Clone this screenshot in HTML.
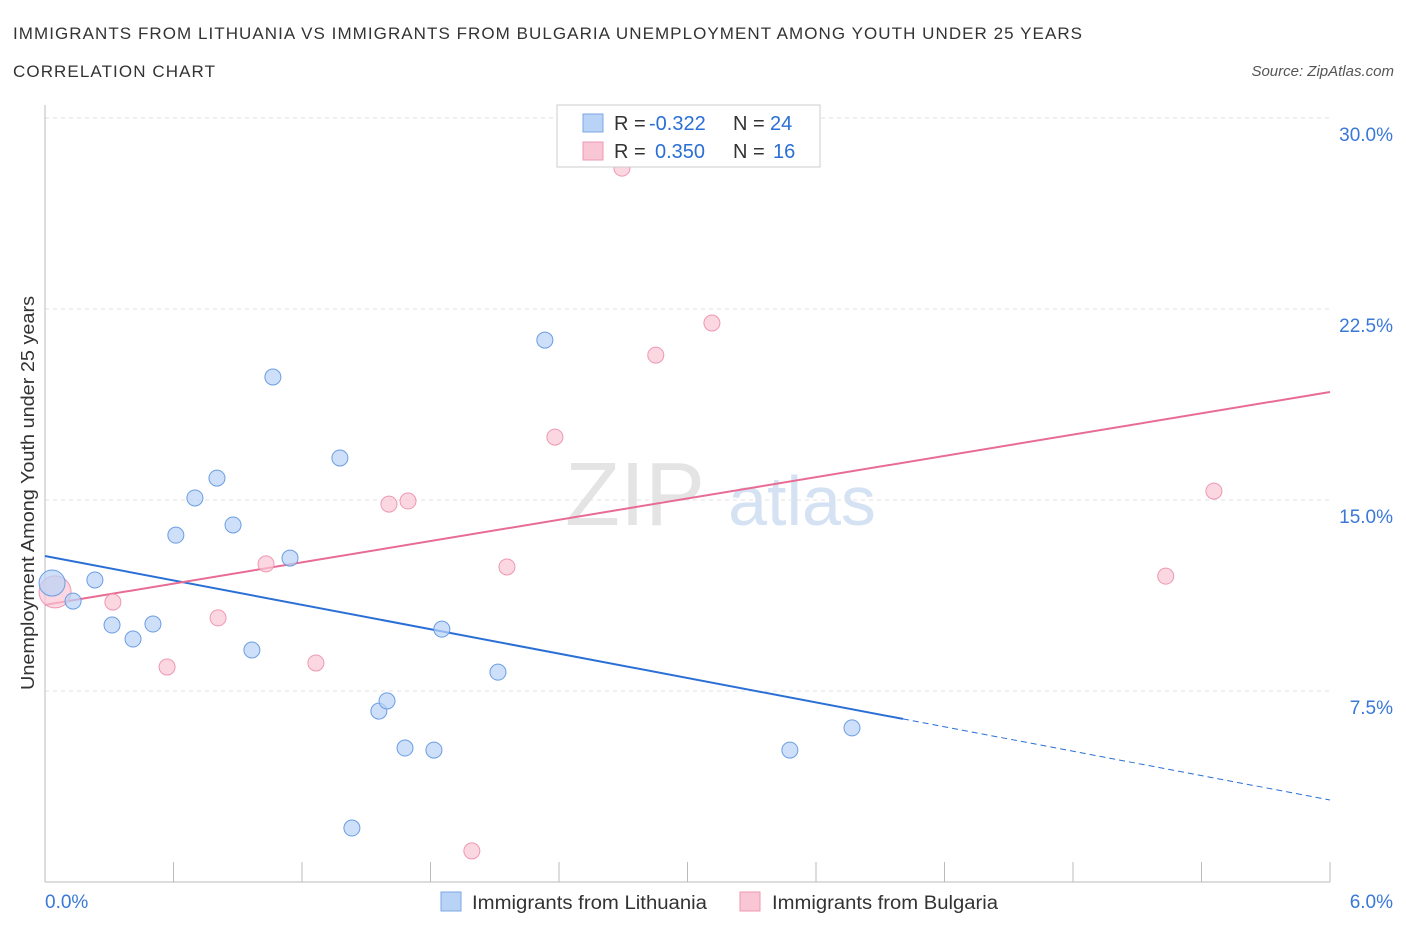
<!DOCTYPE html>
<html><head><meta charset="utf-8">
<style>
body{margin:0;background:#fff;font-family:"Liberation Sans",sans-serif;}
svg text{font-family:"Liberation Sans",sans-serif;}
</style></head>
<body>
<svg id="chart" width="1406" height="930" viewBox="0 0 1406 930" xmlns="http://www.w3.org/2000/svg">
<text x="13" y="39" font-size="17" fill="#333" textLength="1069" lengthAdjust="spacing">IMMIGRANTS FROM LITHUANIA VS IMMIGRANTS FROM BULGARIA UNEMPLOYMENT AMONG YOUTH UNDER 25 YEARS</text>
<text x="13" y="77" font-size="17" fill="#333" textLength="202" lengthAdjust="spacing">CORRELATION CHART</text>
<text x="1394" y="76" font-size="15" fill="#555" font-style="italic" text-anchor="end">Source: ZipAtlas.com</text>
<g>
<text x="635" y="525" font-size="90" fill="#e4e4e4" font-family="Liberation Serif" text-anchor="middle">ZIP</text>
<text x="802" y="525" font-size="70" fill="#d5e2f3" text-anchor="middle">atlas</text>
</g>
<g id="grid"></g>
<g id="axes"></g>
<g id="trends"></g>
<g id="points"></g>
<text transform="translate(34,493) rotate(-90)" font-size="18" fill="#333" text-anchor="middle" textLength="394" lengthAdjust="spacingAndGlyphs">Unemployment Among Youth under 25 years</text>
<g>
<rect x="557" y="105" width="263" height="62" fill="#fff" stroke="#ccc"/>
<rect x="583" y="114" width="20" height="18" fill="#b9d3f7" stroke="#7aa7e6"/>
<rect x="583" y="142" width="20" height="18" fill="#f9c6d5" stroke="#ee98b2"/>
<text x="614" y="130" font-size="20" fill="#333">R = <tspan fill="#2a6fd6" x="649">-0.322</tspan><tspan x="733">N = </tspan><tspan fill="#2a6fd6" x="770">24</tspan></text>
<text x="614" y="158" font-size="20" fill="#333">R = <tspan fill="#2a6fd6" x="655">0.350</tspan><tspan x="733">N = </tspan><tspan fill="#2a6fd6" x="773">16</tspan></text>
</g>
<g>
<rect x="441" y="892" width="20" height="19" fill="#b9d3f7" stroke="#7aa7e6"/>
<text x="472" y="909" font-size="19" fill="#333" textLength="235" lengthAdjust="spacingAndGlyphs">Immigrants from Lithuania</text>
<rect x="740" y="892" width="20" height="19" fill="#f9c6d5" stroke="#ee98b2"/>
<text x="772" y="909" font-size="19" fill="#333" textLength="226" lengthAdjust="spacingAndGlyphs">Immigrants from Bulgaria</text>
</g>
</svg>
<script>
const xTicks=[0,0.6,1.2,1.8,2.4,3.0,3.6,4.2,4.8,5.4,6.0];
const yTicks=[7.5,15,22.5,30];
const yTickLabels=["7.5%","15.0%","22.5%","30.0%"];
const xEndLabels=["0.0%","6.0%"];
const lithX=[0.033,0.131,0.233,0.313,0.411,0.504,0.611,0.700,0.803,0.878,0.966,1.064,1.144,1.377,1.433,1.559,1.597,1.681,1.816,1.853,2.115,2.334,3.478,3.768];
const lithY=[11.74,11.03,11.86,10.09,9.54,10.13,13.62,15.08,15.86,14.02,9.11,19.83,12.72,16.65,2.12,6.71,7.11,5.26,5.18,9.93,8.24,21.28,5.18,6.05];
const bulgX=[0.047,0.317,0.570,0.808,1.032,1.265,1.606,1.695,1.993,2.157,2.381,2.694,2.852,3.114,5.233,5.458];
const bulgY=[11.39,10.99,8.44,10.37,12.49,8.60,14.84,14.96,1.22,12.37,17.47,28.03,20.69,21.95,12.01,15.35];
const lithTrend=[12.80,3.22]; const lithSolidEnd=4.006;
const bulgTrend=[10.88,19.24];
const NS="http://www.w3.org/2000/svg";
const X=v=>45+v*(1285/6);
const Y=v=>882-v*(764/30);
function mk(tag,attrs,parent){const e=document.createElementNS(NS,tag);for(const k in attrs)e.setAttribute(k,attrs[k]);document.getElementById(parent).appendChild(e);return e;}
yTicks.forEach((t,i)=>{
 const g=mk('line',{x1:45,x2:1330,y1:Y(t),y2:Y(t),stroke:'#e2e2e2','stroke-dasharray':'4,4'},'grid');
 
 
 const l=mk('text',{x:1393,y:Y(t)+23,'font-size':19,fill:'#3a78d8','text-anchor':'end'},'grid');
 l.textContent=yTickLabels[i];
 
 
});
const ax=mk('line',{x1:45,x2:45,y1:105,y2:882,stroke:'#bbb'},'axes');


const bx=mk('line',{x1:45,x2:1330,y1:882,y2:882,stroke:'#bbb'},'axes');


xTicks.forEach(t=>{
 const k=mk('line',{x1:X(t),x2:X(t),y1:862,y2:882,stroke:'#bbb'},'axes');
 
 
});
[[0,'start',45],[6,'end',1393]].forEach((d,i)=>{
 const l=mk('text',{x:d[2],y:908,'font-size':19,fill:'#3a78d8','text-anchor':d[1]},'axes');
 l.textContent=xEndLabels[i];
 
 
});
const bl=(x)=>lithTrend[0]+(lithTrend[1]-lithTrend[0])*x/6;
const t1=mk('line',{x1:X(0),y1:Y(lithTrend[0]),x2:X(lithSolidEnd),y2:Y(bl(lithSolidEnd)),stroke:'#2a6fd6','stroke-width':2},'trends');


const t2=mk('line',{x1:X(lithSolidEnd),y1:Y(bl(lithSolidEnd)),x2:X(6),y2:Y(lithTrend[1]),stroke:'#2a6fd6','stroke-width':1,'stroke-dasharray':'6,4'},'trends');


const t3=mk('line',{x1:X(0),y1:Y(bulgTrend[0]),x2:X(6),y2:Y(bulgTrend[1]),stroke:'#e86b94','stroke-width':2},'trends');


bulgX.forEach((x,i)=>{
 const c=mk('circle',{cx:X(x),cy:Y(bulgY[i]),r:i===0?16:8,fill:'#f9c6d5','fill-opacity':0.7,stroke:'#ee98b2','stroke-width':1},'points');
 
 
});
lithX.forEach((x,i)=>{
 const c=mk('circle',{cx:X(x),cy:Y(lithY[i]),r:i===0?13:8,fill:'#b9d3f7','fill-opacity':0.7,stroke:'#6a9de3','stroke-width':1},'points');
 
 
});
</script>
</body></html>
